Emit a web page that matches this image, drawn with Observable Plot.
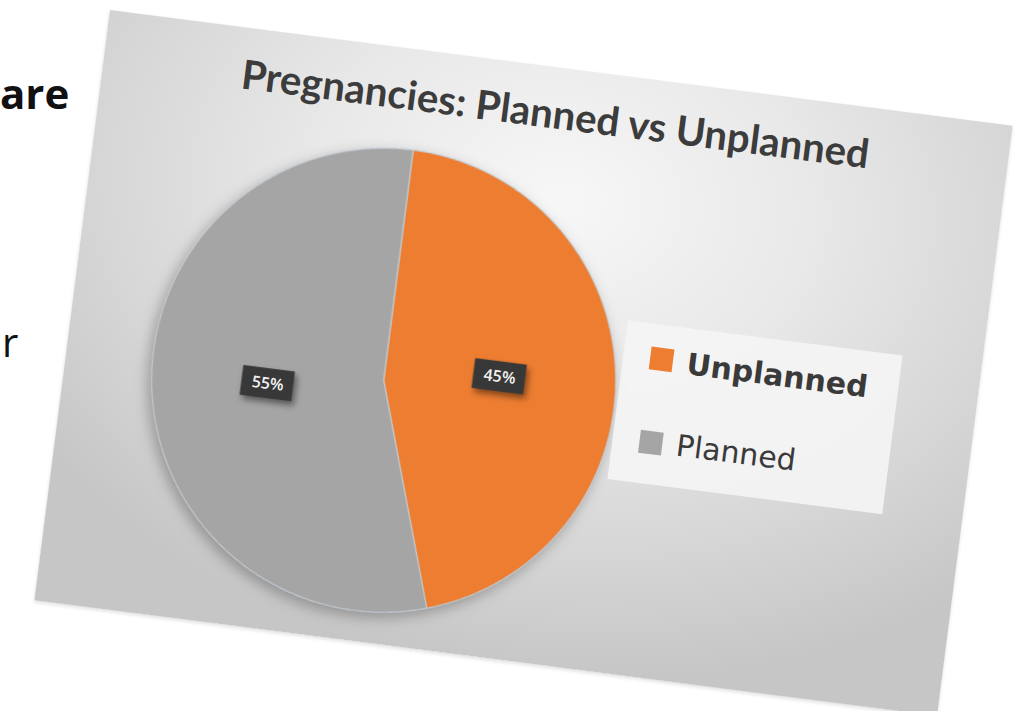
<!DOCTYPE html>
<html><head><meta charset="utf-8">
<script src="https://cdn.jsdelivr.net/npm/d3@7"></script>
<script src="https://cdn.jsdelivr.net/npm/@observablehq/plot@0.6"></script>
<style>
html,body{margin:0;padding:0;background:#fff;}
body{width:1018px;height:711px;overflow:hidden;position:relative;font-family:"Open Sans",sans-serif;}
.slide{position:absolute;color:#111;font-family:"Open Sans",sans-serif;line-height:1;}
#panel{position:absolute;left:110px;top:10px;width:910px;height:595px;transform-origin:0 0;transform:rotate(7.3deg);
  background:radial-gradient(ellipse 70% 80% at 52% 22%, #f7f7f7 0%, #e8e8e8 40%, #d5d5d5 75%, #c6c6c6 100%);
  box-shadow:0 2px 4px rgba(0,0,0,0.12);overflow:hidden;}
#title{position:absolute;left:0;width:910px;text-align:center;line-height:1;color:#3c3c3c;font-family:Lato,"Open Sans",sans-serif;font-weight:700;white-space:nowrap;}
#title span{display:inline-block;}
#chart{position:absolute;left:0;top:0;}
#chart svg{background:transparent;overflow:visible;}
#chart g[aria-label="line"]{filter:drop-shadow(-3px 5px 7px rgba(0,0,0,0.28));}
#chart g[aria-label="rect"]{filter:drop-shadow(3px 4px 3px rgba(0,0,0,0.45));}
#legend{position:absolute;left:553px;top:242px;width:277px;height:160px;background:rgba(244,244,244,0.92);}
.item{position:absolute;left:0;font-family:"DejaVu Sans",sans-serif;font-size:30px;color:#3a3a3a;line-height:1;white-space:nowrap;}
.sw{position:absolute;width:23px;height:23px;}
</style></head><body>
<div class="slide" style="left:0px;top:72px;font-size:42px;font-weight:700;">are</div>
<div class="slide" style="left:2px;top:322px;font-size:40px;">r</div>
<div id="panel">
  <div id="title"><span>Pregnancies: Planned vs Unplanned</span></div>
  <div id="chart"></div>
  <div id="legend"></div>
</div>
<script>
// ---- data ----
const categories = ["Unplanned", "Planned"];
const shares = [45, 55];
const colors = ["#ED7D31", "#A5A5A5"];
const labels = ["45%", "55%"];
const titleText = "Pregnancies: Planned vs Unplanned";

// ---- build slice outlines from shares (angles clockwise from 12 o'clock) ----
const total = d3.sum(shares);
const slicePts = [];
const labelRows = [];
let acc = 0;
categories.forEach((name, i) => {
  const a0 = acc / total * 2 * Math.PI;
  acc += shares[i];
  const a1 = acc / total * 2 * Math.PI;
  slicePts.push({name, x: 0, y: 0});
  const n = Math.max(2, Math.ceil((a1 - a0) / (Math.PI / 360)));
  for (let k = 0; k <= n; k++) {
    const a = a0 + (a1 - a0) * k / n;
    slicePts.push({name, x: Math.sin(a), y: Math.cos(a)});
  }
  slicePts.push({name, x: 0, y: 0});
  const am = (a0 + a1) / 2;
  labelRows.push({name, label: labels[i], x: 0.5 * Math.sin(am), y: 0.5 * Math.cos(am)});
});

const W = 910, H = 595, cx = 318, cy = 332, R = 232;
const bw = 52 / R, bh = 30 / R; // label box size in data units (px / radius)

const plot = Plot.plot({
  width: W, height: H,
  margin: 0,
  style: {background: "transparent", overflow: "visible"},
  x: {domain: [-1, 1], range: [cx - R, cx + R], axis: null},
  y: {domain: [-1, 1], range: [cy + R, cy - R], axis: null},
  color: {domain: categories, range: colors},
  marks: [
    Plot.line(slicePts, {x: "x", y: "y", z: "name", fill: "name", stroke: "#c3ccd4", strokeWidth: 1.1, curve: "linear"}),
    Plot.rect(labelRows, {x1: d => d.x - bw / 2, x2: d => d.x + bw / 2, y1: d => d.y - bh / 2, y2: d => d.y + bh / 2, fill: "#383838"}),
    Plot.text(labelRows, {x: "x", y: "y", text: "label", fill: "#f2f2f2", fontSize: 16, fontWeight: 600, fontFamily: "Open Sans"})
  ]
});
document.getElementById("chart").appendChild(plot);

// ---- title, fitted to measured width ----
const title = document.getElementById("title");
const span = title.querySelector("span");
span.textContent = titleText;
let fs = 33;
span.style.fontSize = fs + "px";
fs = fs * 632 / span.offsetWidth;
span.style.fontSize = fs + "px";
title.style.top = (62 - 0.887 * fs) + "px";

// ---- legend ----
const legend = document.getElementById("legend");
const legendRows = [
  {name: categories[0], color: colors[0], weight: 700, baseline: 288, swy: 276},
  {name: categories[1], color: colors[1], weight: 400, baseline: 370, swy: 360}
];
legendRows.forEach(r => {
  const sw = document.createElement("div");
  sw.className = "sw";
  sw.style.background = r.color;
  sw.style.left = (591 - 553 - 11) + "px";
  sw.style.top = (r.swy - 242 - 11) + "px";
  legend.appendChild(sw);
  const t = document.createElement("div");
  t.className = "item";
  t.textContent = r.name;
  t.style.fontWeight = r.weight;
  t.style.left = (617 - 553) + "px";
  t.style.top = (r.baseline - 242 - 0.846 * 30) + "px";
  legend.appendChild(t);
});
</script>
</body></html>
